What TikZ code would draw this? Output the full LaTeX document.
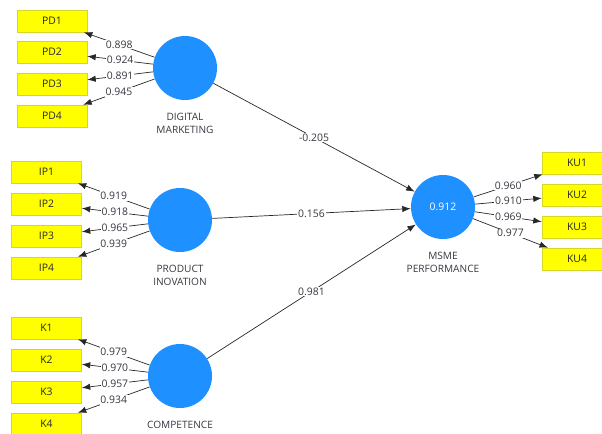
\documentclass[tikz,border=0pt]{standalone}
\usepackage{fontspec}
\setmainfont{Open Sans}
\usepackage{tikz}
\usetikzlibrary{arrows.meta}
\usetikzlibrary{positioning}
\definecolor{lvblue}{RGB}{30,144,255}
\definecolor{indyellow}{RGB}{255,255,0}
\definecolor{indborder}{RGB}{214,214,40}
\definecolor{linegray}{RGB}{40,40,40}
\definecolor{labelgray}{RGB}{55,55,65}
\tikzset{>=latex}
\tikzstyle{ind} = [rectangle, draw=indborder, fill=indyellow, minimum width=1.75cm, minimum height=0.55cm, inner sep=0, font=\fontsize{7.4}{8}\selectfont, text=black!85]
\tikzstyle{lv} = [circle, draw=none, fill=lvblue, minimum size=1.6cm, inner sep=0, font=\fontsize{7.4}{8}\selectfont, text=white]
\tikzstyle{lvname} = [draw=none, align=center, inner sep=1pt, font=\fontsize{7.2}{9.4}\selectfont, text=labelgray]
\tikzstyle{coef} = [fill=white, inner sep=0.6pt, font=\fontsize{7.4}{8}\selectfont, text=labelgray]
\tikzstyle{path} = [-{Latex[length=6pt,width=4.5pt]}, draw=linegray, line width=0.5pt]

\begin{document}
\begin{tikzpicture}[x=0.025cm, y=-0.025cm]
\clip (0,0) rectangle (602,433);
% indicators
\node [ind] (PD1) at (52, 21) {PD1};
\node [ind] (PD2) at (52, 52) {PD2};
\node [ind] (PD3) at (52, 84) {PD3};
\node [ind] (PD4) at (52, 116) {PD4};
\node [ind] (IP1) at (46.5, 172) {IP1};
\node [ind] (IP2) at (46.5, 204) {IP2};
\node [ind] (IP3) at (46.5, 236) {IP3};
\node [ind] (IP4) at (46.5, 268) {IP4};
\node [ind] (K1) at (46.5, 328) {K1};
\node [ind] (K2) at (46.5, 360) {K2};
\node [ind] (K3) at (46.5, 392) {K3};
\node [ind] (K4) at (46.5, 424) {K4};
\node [ind] (KU1) at (577, 163) {KU1};
\node [ind] (KU2) at (577, 195) {KU2};
\node [ind] (KU3) at (577, 227) {KU3};
\node [ind] (KU4) at (577, 259) {KU4};
% latent variables
\node [lv] (DM) at (185, 68) {};
\node [lv] (PI) at (180, 220) {};
\node [lv] (CO) at (180, 376) {};
\node [lv] (MP) at (443, 207) {0.912};
\node [lvname, below=0.28cm of DM] (DMname) {DIGITAL\\MARKETING};
\node [lvname, below=0.28cm of PI] (PIname) {PRODUCT\\INOVATION};
\node [lvname, below=0.28cm of CO] (COname) {COMPETENCE};
\node [lvname, below=0.28cm of MP] (MPname) {MSME\\PERFORMANCE};
% outer loadings
\draw [path] (DM) to node [coef] {0.898} (PD1);
\draw [path] (DM) to node [coef] {0.924} (PD2);
\draw [path] (DM) to node [coef] {0.891} (PD3);
\draw [path] (DM) to node [coef] {0.945} (PD4);
\draw [path] (PI) to node [coef] {0.919} (IP1);
\draw [path] (PI) to node [coef] {0.918} (IP2);
\draw [path] (PI) to node [coef] {0.965} (IP3);
\draw [path] (PI) to node [coef] {0.939} (IP4);
\draw [path] (CO) to node [coef] {0.979} (K1);
\draw [path] (CO) to node [coef] {0.970} (K2);
\draw [path] (CO) to node [coef] {0.957} (K3);
\draw [path] (CO) to node [coef] {0.934} (K4);
\draw [path] (MP) to node [coef] {0.960} (KU1);
\draw [path] (MP) to node [coef] {0.910} (KU2);
\draw [path] (MP) to node [coef] {0.969} (KU3);
\draw [path] (MP) to node [coef] {0.977} (KU4);
% path coefficients
\draw [path] (DM) to node [coef] {-0.205} (MP);
\draw [path] (PI) to node [coef] {0.156} (MP);
\draw [path] (CO) to node [coef] {0.981} (MP);
\end{tikzpicture}
\end{document}
